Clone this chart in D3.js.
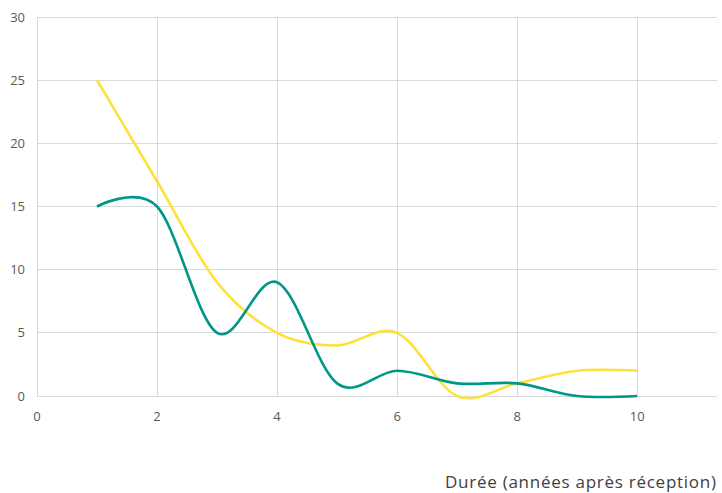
<!DOCTYPE html>
<html><head><meta charset="utf-8">
<script src="https://cdn.jsdelivr.net/npm/d3@7"></script>
<style>body{margin:0;background:#fff;}svg{display:block;font-family:"Open Sans",sans-serif;}</style>
</head><body>
<svg id="c" width="722" height="493"></svg>
<script>
const years = [1,2,3,4,5,6,7,8,9,10];
const seriesYellow = [25,17,9,5,4,5,0,1,2,2];
const seriesTeal = [15,15,5,9,1,2,1,1,0,0];
const xTicks = [0,2,4,6,8,10];
const yTicks = [0,5,10,15,20,25,30];
const xTitle = "Durée (années après réception)";

const svg = d3.select("#c");
const x = d3.scaleLinear().domain([0, 11.33]).range([37, 717]);
const y = d3.scaleLinear().domain([0, 30]).range([396, 17]);
const grid = "#d9d9d9";

svg.append("g").selectAll("line").data(yTicks).join("line")
  .attr("x1", x(0)).attr("x2", x(11.33))
  .attr("y1", d => y(d)).attr("y2", d => y(d))
  .attr("stroke", grid).attr("stroke-width", 1).attr("shape-rendering","crispEdges");
svg.append("g").selectAll("line").data(xTicks).join("line")
  .attr("x1", d => x(d)).attr("x2", d => x(d))
  .attr("y1", y(0)).attr("y2", y(30))
  .attr("stroke", grid).attr("stroke-width", 1).attr("shape-rendering","crispEdges");

svg.append("g").selectAll("text").data(yTicks).join("text")
  .attr("x", 25).attr("y", d => y(d)).attr("dy", "0.35em")
  .attr("text-anchor", "end").attr("font-size", 13).attr("fill", "#595959")
  .text(d => d);
svg.append("g").selectAll("text").data(xTicks).join("text")
  .attr("x", d => x(d)).attr("y", 421)
  .attr("text-anchor", "middle").attr("font-size", 13).attr("fill", "#595959")
  .text(d => d);

const line = (vals) => d3.line().x((d,i) => x(years[i])).y(d => y(d))
  .curve(d3.curveCardinal.tension(0))(vals);

svg.append("path").attr("d", line(seriesYellow)).attr("fill","none")
  .attr("stroke","#FDE138").attr("stroke-width",2.6).attr("stroke-linejoin","round");
svg.append("path").attr("d", line(seriesTeal)).attr("fill","none")
  .attr("stroke","#00978A").attr("stroke-width",2.6).attr("stroke-linejoin","round");

svg.append("text").attr("x", 445).attr("y", 488).attr("text-anchor","start")
  .attr("font-size", 17).attr("fill", "#404040")
  .attr("textLength", 271).attr("lengthAdjust", "spacing").text(xTitle);
</script>
</body></html>
